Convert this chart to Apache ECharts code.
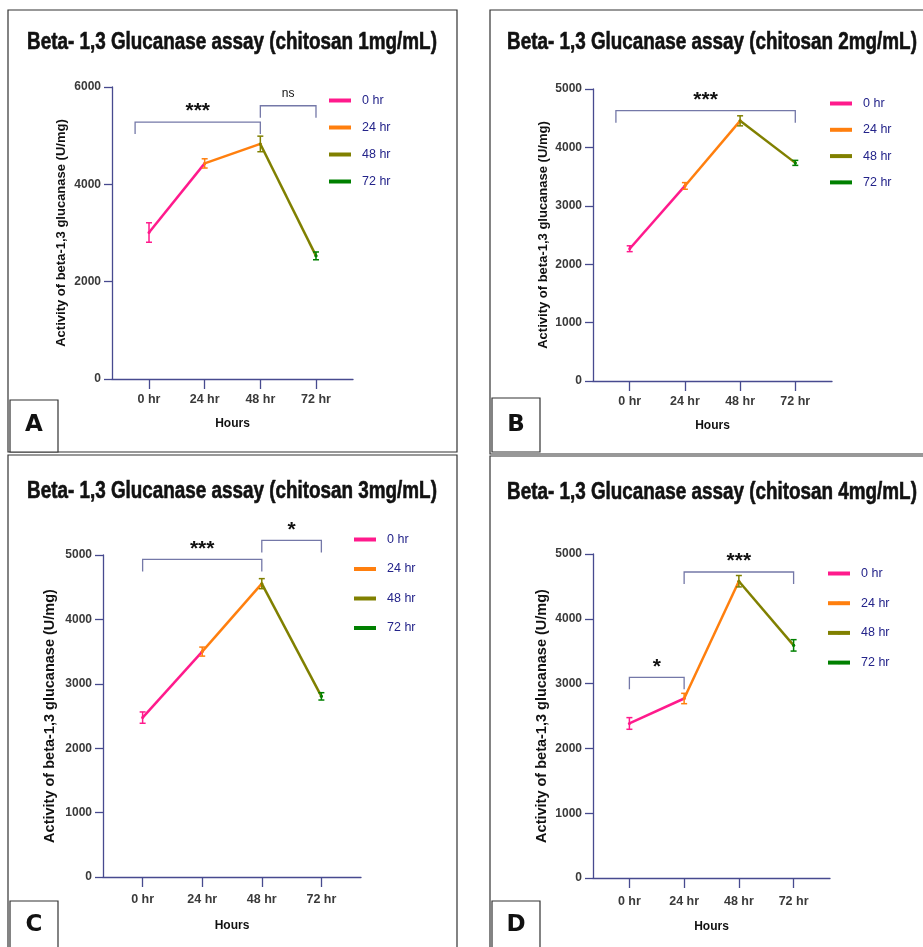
<!DOCTYPE html>
<html>
<head>
<meta charset="utf-8">
<script src="https://cdn.jsdelivr.net/npm/echarts@6/dist/echarts.min.js"></script>
<style>
    html, body { margin: 0; padding: 0; background: #ffffff; }
    #chart { width: 923px; height: 947px; }
</style>
</head>
<body>
<div id="chart"></div>
<script>
    // data
    const categories = ['0 hr', '24 hr', '48 hr', '72 hr'];
    const panelTitles = [
        'Beta- 1,3 Glucanase assay (chitosan 1mg/mL)',
        'Beta- 1,3 Glucanase assay (chitosan 2mg/mL)',
        'Beta- 1,3 Glucanase assay (chitosan 3mg/mL)',
        'Beta- 1,3 Glucanase assay (chitosan 4mg/mL)'
    ];
    const panelLetters = ['A', 'B', 'C', 'D'];

    const meanA = [3010, 4430, 4830, 2530];
    const errA = [200, 95, 160, 80];
    const meanB = [2265, 3340, 4455, 3735];
    const errB = [50, 57, 86, 43];
    const meanC = [2475, 3500, 4555, 2805];
    const errC = [88, 70, 78, 57];
    const meanD = [2385, 2770, 4580, 3590];
    const errD = [90, 80, 88, 88];

    const yMax = [6000, 5000, 5000, 5000];
    const yStep = [2000, 1000, 1000, 1000];

    // significance brackets: [from, to, height, label]
    const bracketsA = [[-0.25, 2, 5280, '***'], [2, 3, 5615, 'ns']];
    const bracketsB = [[-0.25, 3, 4628, '***']];
    const bracketsC = [[0, 2, 4932, '***'], [2, 3, 5227, '*']];
    const bracketsD = [[0, 1, 3097, '*'], [1, 3, 4722, '***']];

    const means = [meanA, meanB, meanC, meanD];
    const errs = [errA, errB, errC, errD];
    const brackets = [bracketsA, bracketsB, bracketsC, bracketsD];

    const colors = ['#ff1a8c', '#ff7f0e', '#808000', '#008000'];
    const axisColor = '#474a8f';
    const bracketColor = '#7478a8';
    const sans = "'Liberation Sans', Arial, sans-serif";

    // layout of each panel (pixels)
    const grids = [
        {left: 112, top: 87, width: 241, height: 292},
        {left: 593, top: 89, width: 239, height: 292},
        {left: 103, top: 555, width: 258, height: 322},
        {left: 593, top: 554, width: 237, height: 324}
    ];
    const legendPos = [
        {left: 327, top: 94, itemGap: 14},
        {left: 828, top: 97, itemGap: 13.3},
        {left: 352, top: 533, itemGap: 16.5},
        {left: 826, top: 567, itemGap: 16.7}
    ];
    const yNameSize = [13, 13, 14.5, 14.5];
    const yNameGap = [44, 43, 46, 44];
    const xLabelMargin = [14, 14, 16, 17];
    const xNameGap = [39, 39, 43, 43];

    let myChart = echarts.init(document.getElementById('chart'));

    let series = [];
    let xAxis = [];
    let yAxis = [];
    let legend = [];

    for (let p = 0; p < 4; p++) {
        const m = means[p];
        const e = errs[p];
        xAxis.push({
            gridIndex: p, type: 'value', min: -0.665, max: 3.665,
            axisLine: {show: true, onZero: false, lineStyle: {color: axisColor, width: 1.3}},
            axisTick: {show: true, length: 10, customValues: [0, 1, 2, 3], lineStyle: {color: axisColor, width: 1.3}},
            axisLabel: {
                customValues: [0, 1, 2, 3],
                formatter: function (v) { return categories[Math.round(v)]; },
                margin: xLabelMargin[p], fontWeight: 'bold', fontSize: 12.5, color: '#3a3a3a', fontFamily: sans
            },
            splitLine: {show: false},
            name: 'Hours', nameLocation: 'middle', nameGap: xNameGap[p],
            nameTextStyle: {fontWeight: 'bold', fontSize: 12, color: '#111', fontFamily: sans}
        });
        yAxis.push({
            gridIndex: p, type: 'value', min: 0, max: yMax[p], interval: yStep[p],
            axisLine: {show: true, onZero: false, lineStyle: {color: axisColor, width: 1.3}},
            axisTick: {show: true, length: 8, lineStyle: {color: axisColor, width: 1.3}},
            axisLabel: {
                margin: 11, fontWeight: 'bold', fontSize: 12, color: '#3a3a3a', fontFamily: sans,
                formatter: function (v) { return String(v); }
            },
            splitLine: {show: false},
            name: 'Activity of beta-1,3 glucanase (U/mg)', nameLocation: 'middle', nameGap: yNameGap[p],
            nameTextStyle: {fontWeight: 'bold', fontSize: yNameSize[p], color: '#111', fontFamily: sans}
        });
        legend.push({
            data: categories, orient: 'vertical', padding: 0,
            left: legendPos[p].left, top: legendPos[p].top, itemGap: legendPos[p].itemGap,
            itemWidth: 22, itemHeight: 4,
            lineStyle: {width: 4},
            textStyle: {color: '#24248a', fontSize: 12.5, fontFamily: sans, padding: [0, 0, 0, 6]}
        });

        // connecting segments, each coloured by its starting time point
        for (let i = 0; i < 4; i++) {
            let pts = [[i, m[i]]];
            if (i < 3) pts.push([i + 1, m[i + 1]]);
            series.push({
                name: categories[i], type: 'line', xAxisIndex: p, yAxisIndex: p,
                data: pts, symbol: 'circle', symbolSize: 3,
                color: colors[i],
                lineStyle: {width: 2.5, color: colors[i]},
                itemStyle: {color: colors[i]},
                z: 2
            });
        }

        // error bars
        series.push({
            type: 'custom', xAxisIndex: p, yAxisIndex: p, z: 3,
            data: m.map(function (v, i) { return [i, v, e[i]]; }),
            renderItem: function (params, api) {
                const x = api.value(0), v = api.value(1), d = api.value(2);
                const hi = api.coord([x, v + d]);
                const lo = api.coord([x, v - d]);
                const c = colors[params.dataIndex];
                const cap = 3;
                const st = {stroke: c, lineWidth: 1.5};
                return {
                    type: 'group', children: [
                        {type: 'line', shape: {x1: hi[0], y1: hi[1], x2: lo[0], y2: lo[1]}, style: st},
                        {type: 'line', shape: {x1: hi[0] - cap, y1: hi[1], x2: hi[0] + cap, y2: hi[1]}, style: st},
                        {type: 'line', shape: {x1: lo[0] - cap, y1: lo[1], x2: lo[0] + cap, y2: lo[1]}, style: st}
                    ]
                };
            }
        });

        // significance brackets
        const br = brackets[p];
        series.push({
            type: 'custom', xAxisIndex: p, yAxisIndex: p, z: 4, clip: false,
            data: br.map(function (b) { return [b[0], b[1], b[2]]; }),
            renderItem: function (params, api) {
                const a = api.coord([api.value(0), api.value(2)]);
                const b = api.coord([api.value(1), api.value(2)]);
                const leg = 12;
                const label = br[params.dataIndex][3];
                const isNs = label === 'ns';
                return {
                    type: 'group', children: [
                        {
                            type: 'polyline',
                            shape: {points: [[a[0], a[1] + leg], [a[0], a[1]], [b[0], b[1]], [b[0], b[1] + leg]]},
                            style: {stroke: bracketColor, lineWidth: 1.3, fill: null}
                        },
                        {
                            type: 'text', x: (a[0] + b[0]) / 2, y: a[1] - (isNs ? 6 : 0),
                            style: {
                                text: label, align: 'center', verticalAlign: 'bottom',
                                fontSize: isNs ? 12 : 21, fontWeight: isNs ? 'normal' : 'bold',
                                fontFamily: sans, fill: '#111'
                            }
                        }
                    ]
                };
            }
        });
    }

    // panel frames, titles and letters
    const frames = [[8, 10, 449, 442], [490, 10, 440, 444], [8, 455, 449, 500], [490, 456, 440, 500]];
    const titlePos = [[232, 43], [712, 43], [232, 492], [712, 493]];
    const letterBoxes = [[10, 400, 48, 52], [492, 398, 48, 54], [10, 901, 48, 50], [492, 901, 48, 50]];
    let graphic = [];
    for (let p = 0; p < 4; p++) {
        graphic.push({
            type: 'rect', shape: {x: frames[p][0], y: frames[p][1], width: frames[p][2], height: frames[p][3]},
            style: {fill: null, stroke: '#333', lineWidth: 1.2}
        });
        graphic.push({
            type: 'rect', shape: {x: letterBoxes[p][0], y: letterBoxes[p][1], width: letterBoxes[p][2], height: letterBoxes[p][3]},
            style: {fill: '#fff', stroke: '#333', lineWidth: 1.2}
        });
        graphic.push({
            type: 'text', x: letterBoxes[p][0] + 24, y: 425 + (p > 1 ? 500 : 0),
            style: {text: panelLetters[p], align: 'center', verticalAlign: 'middle', fontSize: 23, fontWeight: 'bold', fontFamily: "'DejaVu Sans', sans-serif", fill: '#111'}
        });
        graphic.push({
            type: 'text', x: titlePos[p][0], y: titlePos[p][1], scaleX: 0.82,
            style: {
                text: panelTitles[p], align: 'center', verticalAlign: 'middle', fontSize: 23, fontWeight: 'bold',
                fontFamily: sans, fill: '#111', stroke: '#111', lineWidth: 0.6
            }
        });
    }

    myChart.setOption({
        animation: false,
        backgroundColor: '#ffffff',
        grid: grids,
        xAxis: xAxis,
        yAxis: yAxis,
        legend: legend,
        series: series,
        graphic: graphic
    });
</script>
</body>
</html>
